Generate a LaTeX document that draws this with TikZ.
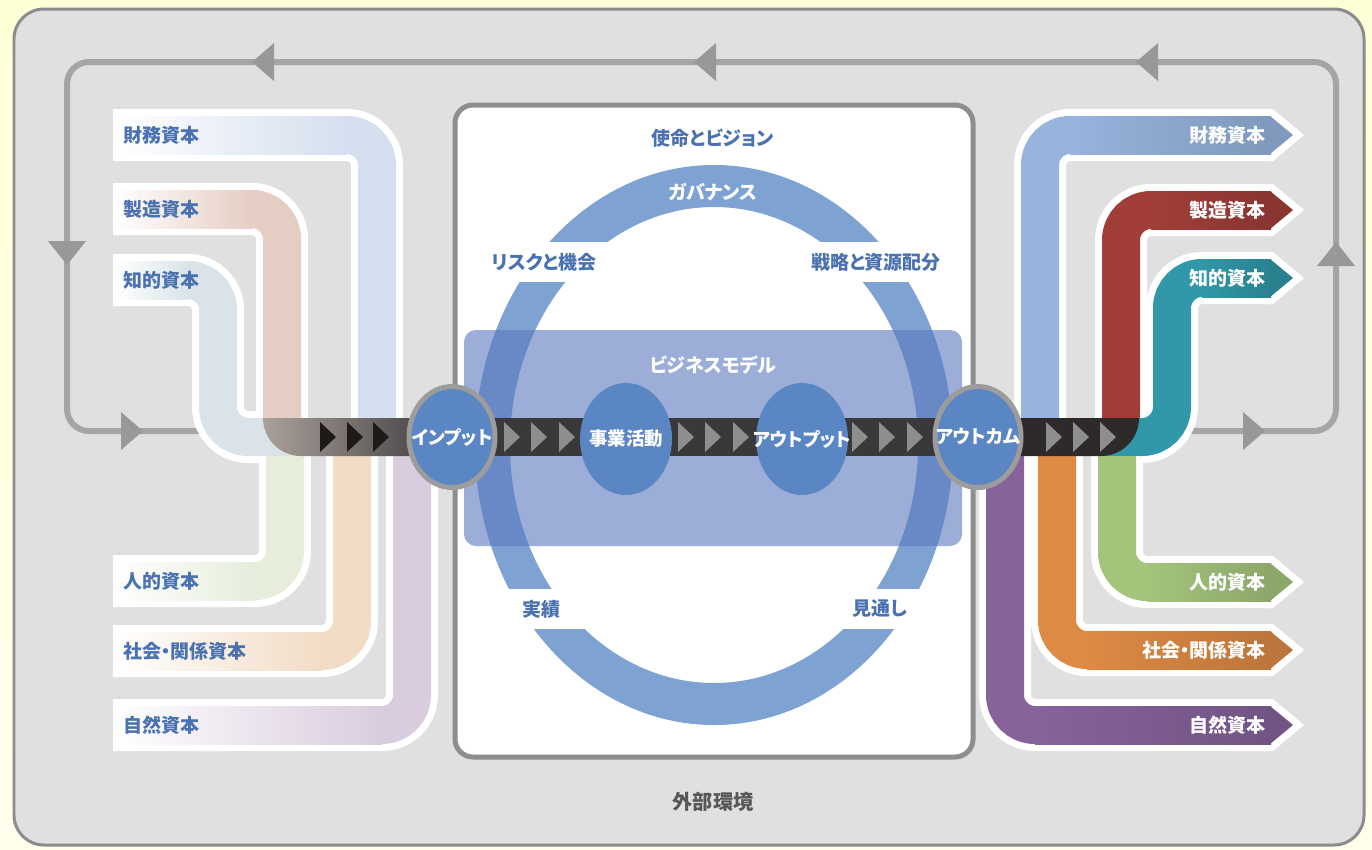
\documentclass[tikz,border=0pt]{standalone}
\usepackage{fontspec}
\setmainfont{Noto Sans CJK JP}[RawFeature={+palt}]
\usetikzlibrary{shapes.geometric,backgrounds}

\definecolor{pageYellow}{HTML}{FFFFD6}
\definecolor{pageLight}{HTML}{FFFFEC}
\definecolor{envGray}{HTML}{E0E0E0}
\definecolor{envRim}{HTML}{8C8C8C}
\definecolor{loopGray}{HTML}{A5A5A5}
\definecolor{markGray}{HTML}{989898}
\definecolor{boxRim}{HTML}{8E8E8E}
\definecolor{textBlue}{HTML}{4A72B0}
\definecolor{textGray}{HTML}{575757}
\definecolor{ringBlue}{HTML}{7EA3D3}
\definecolor{modelBlue}{HTML}{5A78BE}
\definecolor{stageBlue}{HTML}{5A86C4}
\definecolor{rimGray}{HTML}{9C9C9C}
\definecolor{barDark}{HTML}{3A383A}
\definecolor{barEnd}{HTML}{2E2A2A}
\definecolor{ovLight}{HTML}{ABA19B}
\definecolor{chevGray}{HTML}{8E8E8E}
\definecolor{chevBlack}{HTML}{1E1A1A}
% capitals going in
\definecolor{finL}{HTML}{D5DFEF}
\definecolor{manL}{HTML}{E6CDC4}
\definecolor{intL}{HTML}{DAE4E8}
\definecolor{humL}{HTML}{E6EDDB}
\definecolor{socL}{HTML}{F2DCC5}
\definecolor{natL}{HTML}{DACCDF}
% capitals coming out
\definecolor{finR}{HTML}{96B4DD}
\definecolor{manR}{HTML}{A13E39}
\definecolor{intR}{HTML}{3098A8}
\definecolor{humR}{HTML}{A4C47C}
\definecolor{socR}{HTML}{DD8A45}
\definecolor{natR}{HTML}{86639B}

\newcommand\beltfont{\fontsize{10.8}{12}\selectfont\bfseries}
\newcommand\stagefont{\fontsize{10.5}{12}\selectfont\bfseries}
\newcommand\envfont{\fontsize{11.5}{13}\selectfont\bfseries}

\begin{document}
\begin{tikzpicture}[x=0.02cm, y=-0.02cm,
  beltrim/.style={white, line width=1.04cm},
  belt/.style={line width=0.76cm},
  marker/.style={fill=markGray},
  stage/.style={ellipse, fill=stageBlue, inner sep=0pt, minimum width=1.84cm, minimum height=2.24cm},
  rim/.style={draw=rimGray, line width=0.1cm, minimum width=1.72cm, minimum height=2.02cm},
  stagetext/.style={text=white, font=\stagefont, inner sep=0pt},
  capin/.style={text=textBlue, font=\beltfont, inner sep=0pt, anchor=west},
  capout/.style={text=white, font=\beltfont, inner sep=0pt, anchor=east},
  tag/.style={text=textBlue, font=\beltfont, inner sep=0pt}]

\useasboundingbox (0,0) rectangle (1372,849);

% stages
\node[stage, rim] (input) at (452,437) {};
\node[stage] (activity) at (626,439) {};
\node[stage] (output) at (802,439) {};
\node[stage, rim] (outcome) at (978,437) {};
\node[stagetext] (inputTag) at (input) {インプット};
\node[stagetext] (activityTag) at (activity) {事業活動};
\node[stagetext] (outputTag) at (output) {アウトプット};
\node[stagetext] (outcomeTag) at (outcome) {アウトカム};

% capitals
\node[capin] (finIn) at (123,135) {財務資本};
\node[capin] (manIn) at (123,209) {製造資本};
\node[capin] (intIn) at (123,280) {知的資本};
\node[capin] (humIn) at (123,581) {人的資本};
\node[capin] (socIn) at (123,651) {社会・関係資本};
\node[capin] (natIn) at (123,725) {自然資本};
\node[capout] (finOut) at (1266,135) {財務資本};
\node[capout] (manOut) at (1266,210) {製造資本};
\node[capout] (intOut) at (1266,278) {知的資本};
\node[capout] (humOut) at (1266,582) {人的資本};
\node[capout] (socOut) at (1266,650) {社会・関係資本};
\node[capout] (natOut) at (1266,725) {自然資本};

% organisation
\node[tag] (mission) at (713,138) {使命とビジョン};
\node[tag, text=white] (governance) at (713,192) {ガバナンス};
\node[tag] (risk) at (544,262) {リスクと機会};
\node[tag] (strategy) at (876,262) {戦略と資源配分};
\node[tag, text=white] (model) at (713,365) {ビジネスモデル};
\node[tag] (results) at (541,609) {実績};
\node[tag] (outlook) at (880,609) {見通し};
\node[tag, text=textGray, font=\envfont] (environment) at (713,802) {外部環境};

\begin{scope}[on background layer]
  \shade[top color=pageYellow, bottom color=pageLight] (0,0) rectangle (1372,849);
  \draw[fill=envGray, draw=envRim, line width=0.06cm, rounded corners=0.6cm] (14,9) rectangle (1364,845);

  % feedback loop
  \draw[loopGray, line width=0.12cm, rounded corners=0.44cm]
    (240,431) -- (67,431) -- (67,62) -- (1336,62) -- (1336,431) -- (1170,431);
  \fill[marker] (252,62) -- (274,43) -- (274,81) -- cycle;
  \fill[marker] (694,62) -- (716,43) -- (716,81) -- cycle;
  \fill[marker] (1136,62) -- (1158,43) -- (1158,81) -- cycle;
  \fill[marker] (67,265) -- (48,241) -- (86,241) -- cycle;
  \fill[marker] (143,431) -- (121,412) -- (121,450) -- cycle;
  \fill[marker] (1336,242) -- (1317,266) -- (1355,266) -- cycle;
  \fill[marker] (1265,431) -- (1243,412) -- (1243,450) -- cycle;

  % belts into the input
  \foreach \col/\y/\x in {natL/725/412, socL/651/352, humL/581/285, finL/135/377, manL/209/282} {
    \draw[beltrim, rounded corners=0.6cm] (113,\y) -- (\x,\y) -- (\x,437);
    \draw[belt, \col, rounded corners=0.6cm] (113,\y) -- (\x,\y) -- (\x,437);
    \shade[left color=white, right color=\col] (113,\y-19) rectangle (\x-30,\y+19);
  }
  \draw[beltrim, rounded corners=0.6cm] (113,280) -- (218,280) -- (218,437) -- (262,437);
  \draw[belt, intL, rounded corners=0.6cm] (113,280) -- (218,280) -- (218,437) -- (262,437);
  \shade[left color=white, right color=intL] (113,261) rectangle (188,299);

  % belts out of the outcome
  \foreach \col/\y/\x in {natR/725/1005, socR/650/1057, humR/582/1117, finR/135/1040, manR/210/1121} {
    \draw[beltrim, rounded corners=0.6cm] (\x,437) -- (\x,\y) -- (1272,\y);
    \fill[white] (1262,\y-26) -- (1273,\y-26) -- (1304,\y) -- (1273,\y+26) -- (1262,\y+26) -- cycle;
    \draw[belt, \col, rounded corners=0.6cm] (\x,437) -- (\x,\y) -- (\x+31,\y);
    \shade[left color=\col, right color=\col!85!black] (\x+30,\y-19) rectangle (1271,\y+19);
    \fill[\col!85!black] (1270,\y-19) -- (1293,\y) -- (1270,\y+19) -- cycle;
  }
  \draw[beltrim, rounded corners=0.6cm] (1140,437) -- (1172,437) -- (1172,278) -- (1272,278);
  \fill[white] (1262,252) -- (1273,252) -- (1304,278) -- (1273,304) -- (1262,304) -- cycle;
  \draw[belt, intR, rounded corners=0.6cm] (1140,437) -- (1172,437) -- (1172,278) -- (1203,278);
  \shade[left color=intR, right color=intR!85!black] (1202,259) rectangle (1271,297);
  \fill[intR!85!black] (1270,259) -- (1293,278) -- (1270,297) -- cycle;

  % organisation box, ring and business model
  \draw[fill=white, draw=boxRim, line width=0.1cm, rounded corners=0.36cm] (455,105) rectangle (973,757);
  \fill[ringBlue, even odd rule] (714,445) ellipse [x radius=239, y radius=280]
    (714,445) ellipse [x radius=204, y radius=238];
  \fill[white] (460,242) rectangle (968,282);
  \fill[white] (460,589) rectangle (968,629);
  \fill[modelBlue, opacity=0.6, rounded corners=0.24cm] (464,330) rectangle (962,546);

  % value flow
  \draw[barDark, line width=0.76cm] (input.center) -- (outcome.center);
  \fill[intL] (262,418) rectangle (301,456);
  \shade[left color=ovLight, right color=barDark]
    (263,418) -- (452,418) -- (452,456) -- (301,456) arc[start angle=90, end angle=180, radius=38] -- cycle;
  \fill[intR] (1100,418) rectangle (1141,456);
  \fill[barEnd] (978,418) -- (1139,418) arc[start angle=0, end angle=90, radius=38] -- (978,456) -- cycle;
  \foreach \x in {504,531,559,678,705,733,852,879,907,1046,1073,1100}
    \fill[chevGray] (\x,422) -- (\x+16,437) -- (\x,452) -- cycle;
  \foreach \x in {320,347,373}
    \fill[chevBlack] (\x,422) -- (\x+16,437) -- (\x,452) -- cycle;
\end{scope}
\end{tikzpicture}
\end{document}
